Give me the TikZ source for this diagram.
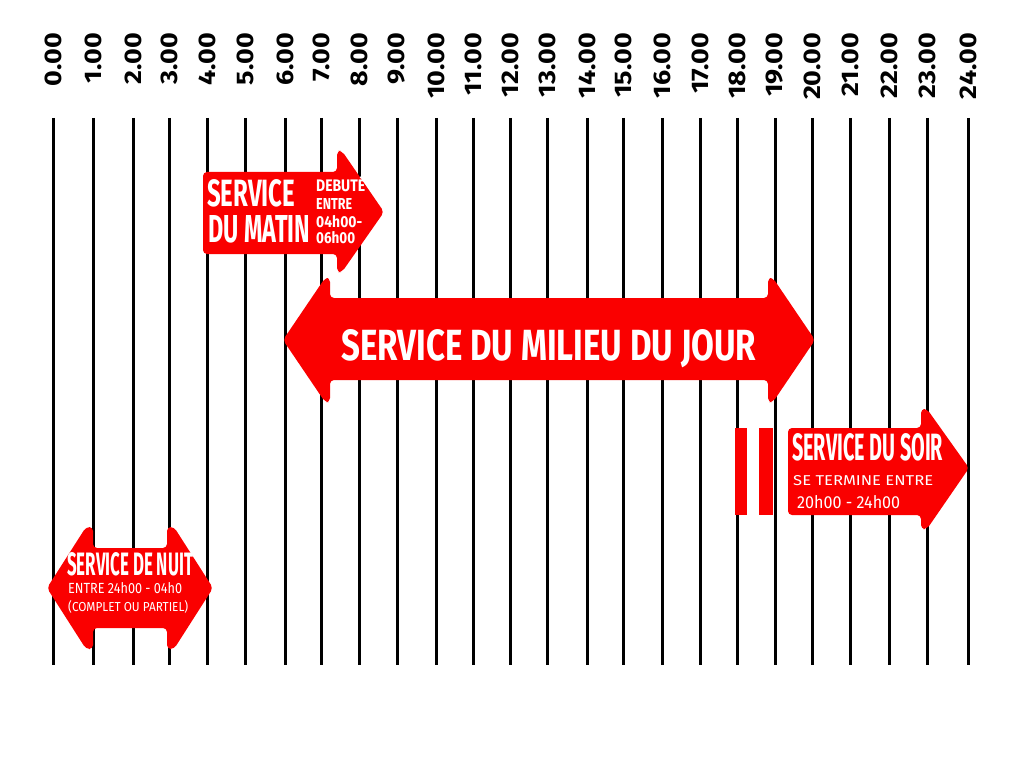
\documentclass[tikz,border=0pt]{standalone}
\usepackage{fontspec}
\setmainfont{Fira Sans}
\usepackage{graphicx}
\definecolor{arrred}{RGB}{250,0,0}
\tikzset{
  hline/.style={line width=3pt, black},
  hlabel/.style={inner sep=0pt, rotate=90, anchor=east, font=\fontsize{24}{24}\selectfont\bfseries},
  redarrow/.style={fill=arrred, draw=none, rounded corners=4pt},
  wtext/.style={inner sep=0pt, anchor=base west, text=white, font=\bfseries}
}
\newcommand{\fitto}[3]{\resizebox{#1pt}{#2pt}{#3}}
\begin{document}
\begin{tikzpicture}[x=1pt,y=-1pt]
\useasboundingbox[fill=white] (0,0) rectangle (1024,767);
% hour lines and labels
\foreach \x [count=\i from 0] in {53,93,133,169,207,245,285,321,359,397,436,473,510,547,587,623,662,700,737,775,812,850,889,927,968}{
  \draw[hline] (\x,118) -- (\x,665);
  \node[hlabel] (lab\i) at (\x,33) {\scalebox{1.12}[1]{\i.00}};
}
% service du matin
\path[redarrow] (203,172) -- (337,172) -- (337,151) -- (342,151) -- (384,212) -- (342,272) -- (337,272) -- (337,254) -- (203,254) -- cycle;
\node[wtext] (m1) at (207,207) {\fitto{88}{27}{SERVICE}};
\node[wtext] (m2) at (208,243) {\fitto{102}{27}{DU MATIN}};
\node[wtext] (m3) at (316,192) {\fitto{49}{16}{DEBUT\'E}};
\node[wtext] (m4) at (316,210) {\fitto{36}{11}{ENTRE}};
\node[wtext] (m5) at (316,227) {\fitto{46}{12}{04h00-}};
\node[wtext] (m6) at (316,243) {\fitto{39}{12}{06h00}};
% service du milieu du jour
\path[redarrow] (283,340) -- (325,278) -- (330,278) -- (330,298) -- (768,298) -- (768,278) -- (773,278) -- (815,340) -- (773,402) -- (768,402) -- (768,380) -- (330,380) -- (330,402) -- (325,402) -- cycle;
\node[wtext] (j1) at (341,360) {\fitto{415}{31}{SERVICE DU MILIEU DU JOUR}};
% service du soir
\path[fill=arrred] (735,428) rectangle (747,515);
\path[fill=arrred] (759,428) rectangle (773,515);
\path[redarrow] (788,428) -- (921,428) -- (921,409) -- (927,409) -- (969,468) -- (927,529) -- (921,529) -- (921,515) -- (788,515) -- cycle;
\node[wtext] (s1) at (792,460) {\fitto{151}{27}{SERVICE DU SOIR}};
\node[wtext] (s2) at (793,485) {\fitto{140}{10}{\mdseries SE TERMINE ENTRE}};
\node[wtext] (s3) at (797,508) {\fitto{103}{13}{\mdseries 20h00 - 24h00}};
% service de nuit
\path[redarrow] (47,588) -- (86,527) -- (93,527) -- (93,548) -- (167,548) -- (167,527) -- (174,527) -- (213,588) -- (174,649) -- (167,649) -- (167,628) -- (93,628) -- (93,649) -- (86,649) -- cycle;
\node[wtext] (n1) at (67,575) {\fitto{126}{23}{SERVICE DE NUIT}};
\node[wtext] (n2) at (68,593) {\fitto{114}{11}{\mdseries ENTRE 24h00 - 04h0}};
\node[wtext] (n3) at (68,611) {\fitto{120}{11}{\mdseries (COMPLET OU PARTIEL)}};
\end{tikzpicture}
\end{document}
